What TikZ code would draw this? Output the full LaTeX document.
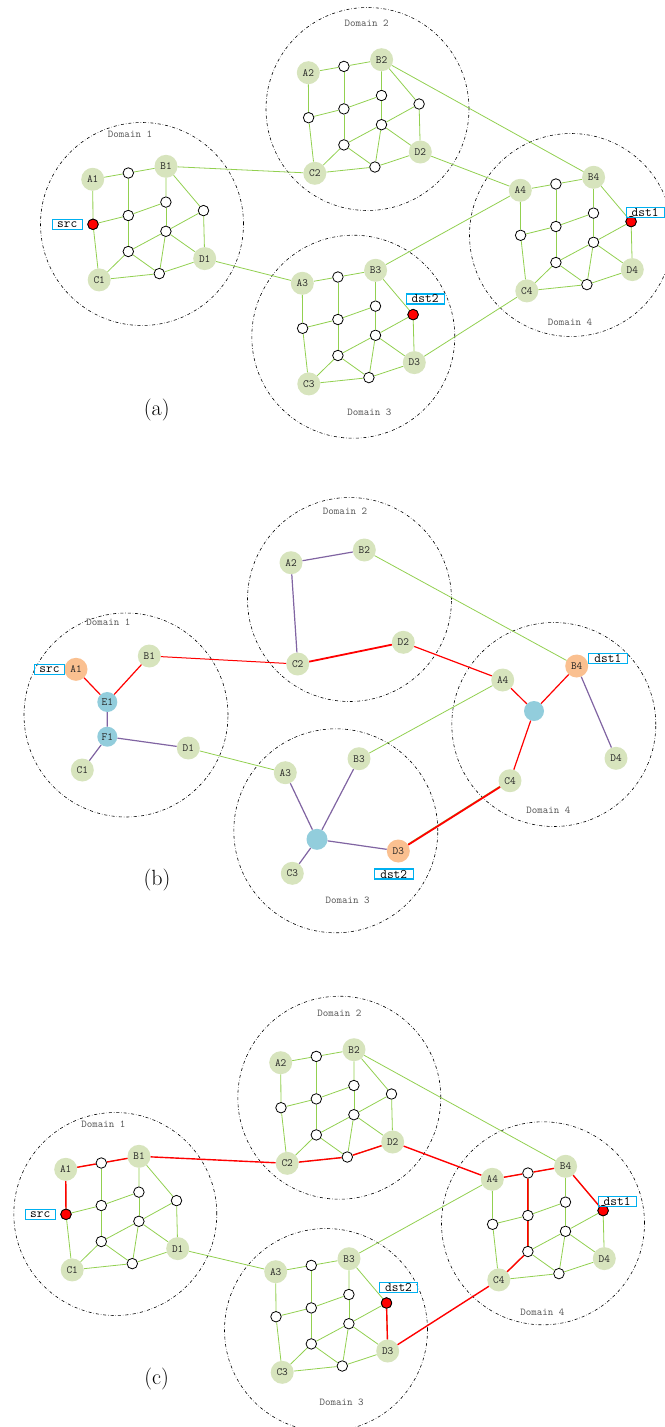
\documentclass[tikz,border=0pt]{standalone}
\usepackage{tikz}
\usetikzlibrary{positioning}
\definecolor{meshgreen}{HTML}{92D050}
\definecolor{gatefill}{HTML}{D7E4BD}
\definecolor{endfill}{HTML}{FAC090}
\definecolor{hubfill}{HTML}{92CDDC}
\definecolor{treepurple}{HTML}{8064A2}
\definecolor{tagblue}{HTML}{00B0F0}

\begin{document}
\begin{tikzpicture}[x=1pt,y=-1pt,
  dom/.style={dashdotted,line width=0.6pt},
  domlab/.style={font=\ttfamily\fontsize{10.5}{12}\selectfont,text=black!65},
  gate/.style={circle,fill=gatefill,minimum size=23pt,inner sep=0pt,font=\ttfamily\fontsize{11}{12}\selectfont,text=black!85},
  hub/.style={gate,fill=hubfill,minimum size=20pt},
  relay/.style={circle,draw,fill=white,minimum size=10.5pt,inner sep=0pt,line width=0.8pt},
  hit/.style={relay,fill=red},
  tag/.style={draw=tagblue,line width=1.2pt,inner sep=0pt,minimum height=10pt,font=\ttfamily\fontsize{13}{13}\selectfont},
  link/.style={meshgreen,line width=0.8pt},
  hot/.style={red,line width=1.4pt},
  tree/.style={treepurple,line width=1.2pt},
  sub/.style={font=\fontsize{22}{26}\selectfont}]
  \useasboundingbox (0,0) rectangle (664,1427);

  % (a) and (c): full meshes of the four domains
  \foreach \p/\i/\ax/\ay/\cx/\cy/\lx/\ly in {
      a/1/92.7/179.3/142/224/130/134, a/2/308.3/72.7/367.5/109/366.7/23.3,
      a/3/302.3/283.3/353.3/336.7/369.3/412.7, a/4/520.3/190.3/571/235/570/322.7,
      c/1/65.7/1169.3/115.3/1214/103.3/1124, c/2/280.7/1062.7/339.3/1097.7/339.3/1013.3,
      c/3/275.7/1271.7/326/1330/341.7/1402.3, c/4/492.3/1179.3/543/1223.3/542.3/1312.3}{
    \draw[dom] (\cx,\cy) circle[radius=101.5pt];
    \node[domlab] at (\lx,\ly) {Domain \i};
    \begin{scope}[shift={(\ax,\ay)}]
      \node[gate] (\p\i A) at (0,0) {A\i};
      \node[gate] (\p\i B) at (73.3,-13) {B\i};
      \node[gate] (\p\i C) at (6.5,100.6) {C\i};
      \node[gate] (\p\i D) at (112,79.3) {D\i};
      \foreach \k/\mx/\my in {0/0.3/45,1/35.6/-6.3,2/35.6/36.2,3/73.2/22.8,
          4/110.8/31.3,5/73.2/52,6/35.6/72.2,7/66.6/94.3}
        \node[relay] (\p\i p\k) at (\mx,\my) {};
      \foreach \ua/\ub in {A/p1,p1/B,A/p0,p0/C,p0/p2,p2/p3,p1/p2,p2/p6,B/p3,p3/p5,
          B/p4,p4/D,p6/p5,p5/p4,p5/D,p5/p7,p6/C,p6/p7,C/p7,p7/D}
        \draw[link] (\p\i\ua) -- (\p\i\ub);
    \end{scope}
  }
  \draw[link] (a1B) -- (a2C) (a1D) -- (a3A) (a2D) -- (a4A) (a2B) -- (a4B) (a3B) -- (a4A) (a3D) -- (a4C);
  \draw[link] (c1D) -- (c3A) (c2B) -- (c4B) (c3B) -- (c4A);
  \draw[hot] (c1p0) -- (c1A) -- (c1p1) -- (c1B) -- (c2C) -- (c2p7) -- (c2D) -- (c4A) -- (c4p1) -- (c4B) -- (c4p4);
  \draw[hot] (c4p1) -- (c4p2) -- (c4p6) -- (c4C) -- (c3D) -- (c3p4);

  % end points of (a) and (c)
  \foreach \p in {a,c}{
    \node[hit] (\p src) at (\p1p0) {};
    \node[hit] (\p dst1) at (\p4p4) {};
    \node[hit] (\p dst2) at (\p3p4) {};
    \node[tag,minimum width=30pt,left=4.5pt of \p src] {src};
    \node[tag,minimum width=38pt,xshift=14pt,yshift=9pt] at (\p dst1) {dst1};
    \node[tag,minimum width=38pt,xshift=12pt,yshift=15.7pt] at (\p dst2) {dst2};
  }

  % (b): reduced graph
  \foreach \cx/\cy/\lx/\ly/\i in {126/715/108.3/622.7/1, 349.5/599.5/345/511/2,
      335.8/830.8/347.7/900.7/3, 553.8/724.5/548.3/810/4}{
    \draw[dom] (\cx,\cy) circle[radius=102pt];
    \node[domlab] at (\lx,\ly) {Domain \i};
  }
  \node[gate,fill=endfill] (b1A) at (76,669.3) {A1};
  \node[gate] (b1B) at (149.3,656) {B1};
  \node[hub] (b1E) at (107.3,702) {E1};
  \node[hub] (b1F) at (107.3,736.7) {F1};
  \node[gate] (b1C) at (82.3,770) {C1};
  \node[gate] (b1D) at (188.3,748) {D1};
  \node[gate] (b2A) at (291,562.7) {A2};
  \node[gate] (b2B) at (364.3,550) {B2};
  \node[gate] (b2C) at (297.7,664) {C2};
  \node[gate] (b2D) at (403.3,642.3) {D2};
  \node[gate] (b3A) at (285.3,772.7) {A3};
  \node[gate] (b3B) at (359,758.7) {B3};
  \node[hub,minimum size=21pt] (b3E) at (317,839.3) {};
  \node[gate] (b3C) at (292.3,873.3) {C3};
  \node[gate,fill=endfill] (b3D) at (398.3,851) {D3};
  \node[gate] (b4A) at (502.7,680) {A4};
  \node[gate,fill=endfill] (b4B) at (576.7,666) {B4};
  \node[hub] (b4E) at (534,711) {};
  \node[gate] (b4C) at (510,780.7) {C4};
  \node[gate] (b4D) at (616,758.3) {D4};
  \node[tag,minimum width=30pt] (bsrc) at (49.5,669.3) {src};
  \node[tag,minimum width=39pt] (bdst1) at (607.8,658.8) {dst1};
  \node[tag,minimum width=39pt] (bdst2) at (393.7,874) {dst2};
  \draw[link] (b1D) -- (b3A) (b2B) -- (b4B) (b3B) -- (b4A);
  \draw[link,transform canvas={yshift=0.9pt}] (b3D) -- (b4C);
  \draw[tree] (b1E) -- (b1F) -- (b1C) (b1F) -- (b1D);
  \draw[tree] (b2B) -- (b2A) -- (b2C);
  \draw[tree] (b3A) -- (b3E) -- (b3B) (b3C) -- (b3E) -- (b3D);
  \draw[tree] (b4B) -- (b4D);
  \draw[red,line width=1.2pt] (b1A) -- (b1E) -- (b1B);
  \draw[red,line width=1pt] (b1B) -- (b2C);
  \draw[red,line width=1.8pt] (b2C) -- (b2D);
  \draw[red,line width=1.2pt] (b2D) -- (b4A) -- (b4E) -- (b4B) (b4E) -- (b4C);
  \draw[red,line width=1.8pt] (b4C) -- (b3D);

  \node[sub] (capa) at (156.7,410) {(a)};
  \node[sub] (capb) at (157,880) {(b)};
  \node[sub] (capc) at (156.7,1379.3) {(c)};
\end{tikzpicture}
\end{document}
